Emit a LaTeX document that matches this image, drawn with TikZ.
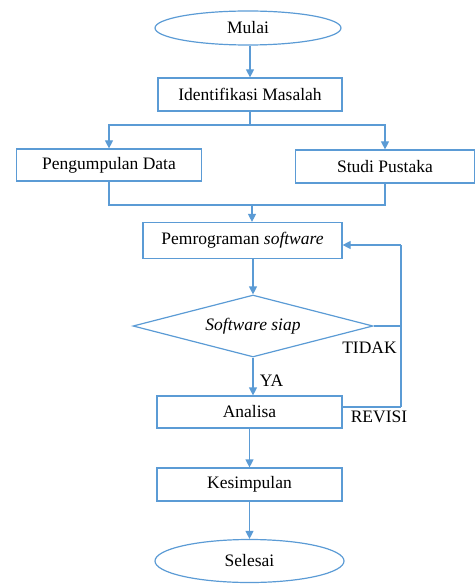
\documentclass[tikz,border=0pt]{standalone}
\usepackage{fontspec}
\setmainfont{Liberation Serif}
\usetikzlibrary{shapes.geometric,arrows.meta}
\definecolor{fcblue}{HTML}{5B9BD5}
\begin{document}
\begin{tikzpicture}[x=1pt,y=1pt,
  txt/.style={font=\fontsize{17.5}{20}\selectfont},
  base/.style={txt,draw=fcblue,line width=1.2pt,inner sep=0pt},
  term/.style={base,ellipse},
  proc/.style={base,rectangle},
  deci/.style={base,diamond,aspect=4},
  conn/.style={draw=fcblue,line width=1.2pt},
  arr/.style={conn,-{Triangle[length=8pt,width=8pt]}},
  lbl/.style={txt,inner sep=0pt}
]
\useasboundingbox (0,0) rectangle (475,-585);

\node[term,minimum width=186,minimum height=34] (mulai) at (248,-28) {Mulai};
\node[proc,minimum width=184,minimum height=33] (ident) at (250,-94.5) {Identifikasi Masalah};
\node[proc,minimum width=185,minimum height=32] (peng) at (109,-165) {Pengumpulan Data};
\node[proc,minimum width=179,minimum height=33] (studi) at (385,-166.5) {Studi Pustaka};
\node[proc,minimum width=199,minimum height=36] (pemro) at (242.5,-240.5) {Pemrograman \textit{software}};
\node[deci,minimum width=240,minimum height=62] (siap) at (253,-326) {\textit{Software siap}};
\node[proc,minimum width=185,minimum height=32] (analisa) at (249.5,-412) {Analisa};
\node[proc,minimum width=185,minimum height=33] (kesim) at (249.5,-484.5) {Kesimpulan};
\node[term,minimum width=189,minimum height=43] (selesai) at (249.5,-561) {Selesai};

\node[lbl] (tidak) at (369.5,-348) {TIDAK};
\node[lbl] (ya) at (271.5,-381) {YA};
\node[lbl] (revisi) at (379,-417) {REVISI};

\coordinate (split) at (250,-125);
\coordinate (merge) at (252,-205);
\coordinate (lt) at (401,-245);
\coordinate (lb) at (401,-407);

\draw[arr] (mulai.south -| ident.north) -- (ident.north);
\draw[conn] (ident.south) -- (split);
\draw[arr] (split) -| (peng.north);
\draw[arr] (split) -| (studi.north);
\draw[conn] (peng.south) |- (merge);
\draw[conn] (studi.south) |- (merge);
\draw[arr] (merge) -- (merge |- pemro.north);
\draw[arr] (pemro.south -| siap.north) -- (siap.north);
\draw[arr] (siap.south) -- (siap.south |- analisa.north);
\draw[conn] (siap.east) -- (siap.east -| lt);
\draw[conn] (lb) -- (lt);
\draw[arr] (lt) -- (lt -| pemro.east);
\draw[conn] (lb -| analisa.east) -- (lb);
\draw[arr] (analisa) -- (kesim);
\draw[arr] (kesim) -- (selesai);
\end{tikzpicture}
\end{document}
